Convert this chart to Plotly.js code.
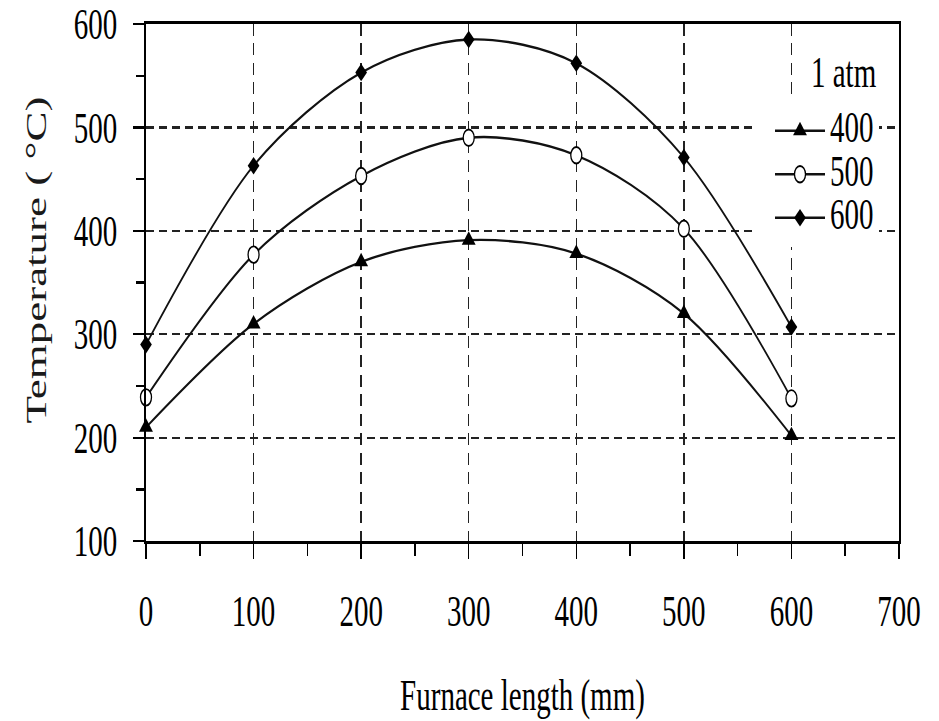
<!DOCTYPE html>
<html>
<head>
<meta charset="utf-8">
<script src="https://cdn.plot.ly/plotly-3.0.1.min.js"></script>
<style>
html,body{margin:0;padding:0;background:#fff;}
#wrap{width:939px;height:721px;overflow:hidden;position:relative;}
#plot{width:939px;height:481px;transform:scaleY(1.49896);transform-origin:0 0;}
</style>
</head>
<body>
<div id="wrap"><div id="plot"></div></div>
<script>
// Data
const furnaceLength = [0, 100, 200, 300, 400, 500, 600];
const temp400 = [210, 310, 370, 391, 378, 320, 202];
const temp500 = [239, 377, 453, 490, 473, 402, 238];
const temp600 = [290, 463, 553, 585, 562, 471, 307];
const seriesNames = ['400', '500', '600'];
const xTickVals = [0, 100, 200, 300, 400, 500, 600, 700];
const yTickVals = [100, 200, 300, 400, 500, 600];
const legendTitle = '1 atm';
const xTitle = 'Furnace length (mm)';
const yTitle = 'Temperature ( °C)';

const FONT = 'Liberation Serif, Times New Roman, serif';
const BIG = 29;
const nm = s => '<span style="font-size:' + BIG + 'px">' + s + '</span>';

const lineStyle = {color: '#111', width: 1.6, shape: 'spline', smoothing: 0.9};

const traces = [
  {x: furnaceLength, y: temp400, name: nm(seriesNames[0]), mode: 'lines+markers', line: lineStyle,
   marker: {symbol: 'triangle-up', size: 12, color: '#000'}, cliponaxis: false},
  {x: furnaceLength, y: temp500, name: nm(seriesNames[1]), mode: 'lines+markers', line: lineStyle,
   marker: {symbol: 'circle', size: 11, color: '#fff', line: {color: '#000', width: 1.3}}, cliponaxis: false},
  {x: furnaceLength, y: temp600, name: nm(seriesNames[2]), mode: 'lines+markers', line: lineStyle,
   marker: {symbol: 'diamond', size: 9, color: '#000'}, cliponaxis: false}
];

const axisCommon = {
  showline: true, linecolor: '#000', linewidth: 2, mirror: true,
  showgrid: true, gridcolor: '#222', gridwidth: 1.5, griddash: '8px,5px',
  zeroline: false, ticks: 'outside', tickcolor: '#000', tickwidth: 1.5,
  ticklabeloverflow: 'allow',
  tickfont: {family: FONT, size: BIG, color: '#000'}
};

const layout = {
  width: 939, height: 481,
  margin: {l: 146, r: 40, t: 16, b: 120},
  paper_bgcolor: '#fff', plot_bgcolor: '#fff',
  font: {family: FONT, color: '#000'},
  showlegend: true,
  xaxis: Object.assign({}, axisCommon, {
    range: [0, 700], tickvals: xTickVals, ticklen: 10, ticklabelstandoff: 10,
    minor: {dtick: 50, tick0: 0, ticks: 'outside', ticklen: 8, tickcolor: '#000', tickwidth: 1.5, showgrid: false},
    title: {text: xTitle, font: {family: FONT, size: BIG, color: '#000'}, standoff: 44}
  }),
  yaxis: Object.assign({}, axisCommon, {
    range: [100, 600], tickvals: yTickVals, ticklen: 11, ticklabelstandoff: 10,
    minor: {dtick: 50, tick0: 0, ticks: 'outside', ticklen: 8, tickcolor: '#000', tickwidth: 1.5, showgrid: false}
  }),
  legend: {
    x: (752 - 146) / 753, xanchor: 'left', y: 0.85, yanchor: 'top',
    bgcolor: '#fff', borderwidth: 0, indentation: 18, itemwidth: 50,
    font: {family: FONT, size: 20, color: '#000'}
  },
  annotations: [{
    text: legendTitle, xref: 'paper', yref: 'paper', x: 0.927, y: 0.9075,
    xanchor: 'center', yanchor: 'middle', showarrow: false,
    font: {family: FONT, size: BIG, color: '#000'}
  }, {
    text: yTitle, xref: 'paper', yref: 'paper', x: -0.146, y: 0.5435,
    xanchor: 'center', yanchor: 'middle', textangle: -90, showarrow: false,
    font: {family: FONT, size: 30, color: '#1a1a1a'}
  }]
};

Plotly.newPlot('plot', traces, layout, {displayModeBar: false, staticPlot: true});
</script>
</body>
</html>
